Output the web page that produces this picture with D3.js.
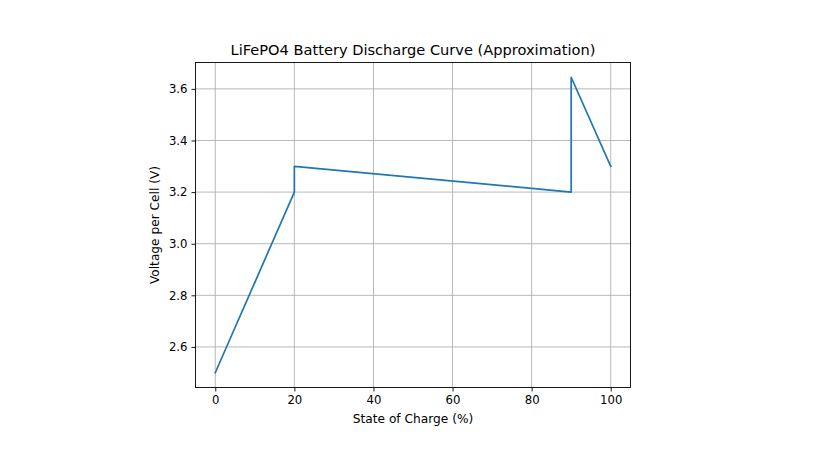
<!DOCTYPE html>
<html><head><meta charset="utf-8">
<script src="https://cdn.jsdelivr.net/npm/d3@7"></script>
<style>body{margin:0;background:#fff;} text{font-family:"DejaVu Sans",sans-serif;fill:#000;}</style>
</head><body>
<svg id="c" width="832" height="449"></svg>
<script>
const soc = [0, 20, 20, 90, 90, 100];
const voltage = [2.5, 3.2, 3.3, 3.2, 3.645, 3.3];
const xTicks = [0, 20, 40, 60, 80, 100];
const yTicks = [2.6, 2.8, 3.0, 3.2, 3.4, 3.6];
const title = "LiFePO4 Battery Discharge Curve (Approximation)";
const xLabel = "State of Charge (%)";
const yLabel = "Voltage per Cell (V)";

const svg = d3.select("#c");
const L = 195.5, R = 630.5, T = 62.5, B = 387.5;
const x = d3.scaleLinear().domain([-5, 105]).range([L, R]);
const yMin = d3.min(voltage), yMax = d3.max(voltage), pad = (yMax - yMin) * 0.05;
const y = d3.scaleLinear().domain([yMin - pad, yMax + pad]).range([B, T]);

// grid
svg.append("g").selectAll("line").data(xTicks).join("line")
  .attr("x1", d => x(d)).attr("x2", d => x(d)).attr("y1", T).attr("y2", B)
  .attr("stroke", "#b0b0b0").attr("stroke-width", 0.9);
svg.append("g").selectAll("line").data(yTicks).join("line")
  .attr("y1", d => y(d)).attr("y2", d => y(d)).attr("x1", L).attr("x2", R)
  .attr("stroke", "#b0b0b0").attr("stroke-width", 0.9);

// line
const pts = soc.map((s, i) => [s, voltage[i]]);
svg.append("path").datum(pts)
  .attr("d", d3.line().x(d => x(d[0])).y(d => y(d[1])))
  .attr("fill", "none").attr("stroke", "#1f77b4").attr("stroke-width", 1.7)
  .attr("stroke-linejoin", "round").attr("stroke-linecap", "square");

// axes
const xa = svg.append("g").attr("transform", `translate(0,${B})`)
  .call(d3.axisBottom(x).tickValues(xTicks).tickFormat(d3.format("d")).tickSize(4).tickPadding(4));
const ya = svg.append("g").attr("transform", `translate(${L},0)`)
  .call(d3.axisLeft(y).tickValues(yTicks).tickFormat(d3.format(".1f")).tickSize(4).tickPadding(4));
[xa, ya].forEach(a => {
  a.select(".domain").remove();
  a.selectAll("line").attr("stroke", "#000").attr("stroke-width", 0.9);
  a.selectAll("text").attr("font-size", "11.7px").attr("font-family", "DejaVu Sans").attr("fill", "#000");
});
// frame
svg.append("rect").attr("x", L).attr("y", T).attr("width", R - L).attr("height", B - T)
  .attr("fill", "none").attr("stroke", "#000").attr("stroke-width", 0.9);

svg.append("text").attr("x", (L + R) / 2).attr("y", 55).attr("text-anchor", "middle")
  .attr("font-size", "14.6px").text(title);
svg.append("text").attr("x", (L + R) / 2).attr("y", 423).attr("text-anchor", "middle")
  .attr("font-size", "12.2px").text(xLabel);
svg.append("text").attr("transform", `translate(159,${(T + B) / 2}) rotate(-90)`)
  .attr("text-anchor", "middle").attr("font-size", "12.2px").text(yLabel);
</script>
</body></html>
